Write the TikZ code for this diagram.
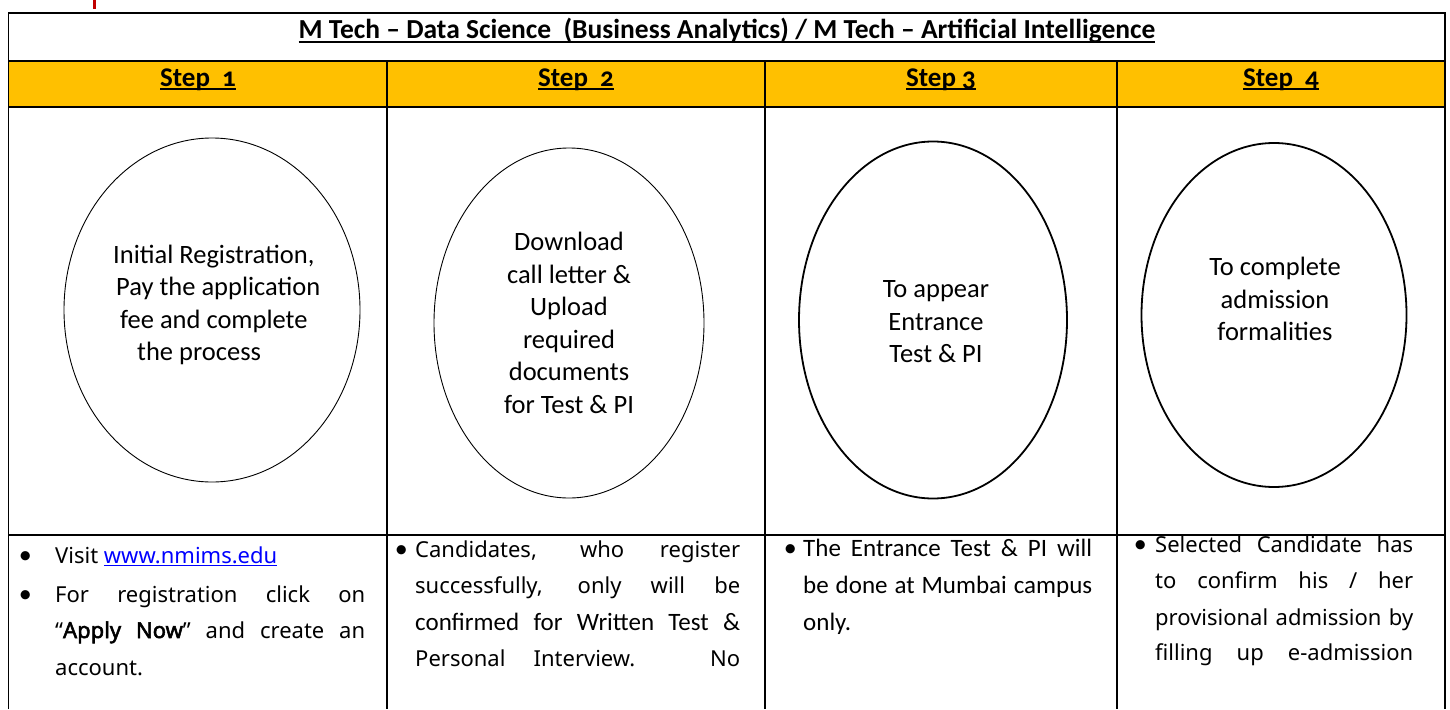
\documentclass[tikz,border=0pt]{standalone}
\usepackage{fontspec}
\usetikzlibrary{shapes.geometric}
\setmainfont{Carlito}
\newfontfamily\stepfont{Carlito}[Numbers=OldStyle]
\newfontfamily\bulfont{Carlito}
\newfontfamily\ns{Noto Sans}
\newfontfamily\nsbold{Noto Sans}[FakeBold=2.5]
\definecolor{hdr}{HTML}{FFC000}
\definecolor{linkblue}{HTML}{0000FF}
\definecolor{darkred}{HTML}{C00000}
\newcommand\ulx[1]{\setbox0=\hbox{#1}\rlap{\rule[-0.14em]{\wd0}{0.065em}}\box0}
\newcommand\jline[2]{\hbox to #1{\spaceskip=.26em plus 1fil minus .08em\relax #2}}
\newcommand\bul[1]{\llap{{\bulfont\fontsize{26}{30}\selectfont\textbullet}\hskip #1}}
\begin{document}
\begin{tikzpicture}[x=1pt,y=-1pt,
  grid/.style={line width=1.8pt},
  oval/.style={draw, ellipse, inner sep=0},
  ovtext/.style={align=center, inner sep=0, font=\fontsize{26.5}{32.5}\selectfont},
  hd/.style={anchor=base, inner sep=0, font=\bfseries\fontsize{27.5}{32}\selectfont},
  sh/.style={anchor=base, inner sep=0, font=\stepfont\bfseries\fontsize{27}{32}\selectfont},
  bl/.style={anchor=base west, inner sep=0, font=\ns\fontsize{22}{26}\selectfont},
  blc/.style={anchor=base west, inner sep=0, font=\fontsize{25}{30}\selectfont}]
\useasboundingbox (0,0) rectangle (1450,709);
% red mark at top
\fill[darkred] (93,0) rectangle (96,9);
% header fill
\fill[hdr] (8.5,61) rectangle (1445,107);
% grid
\draw[grid] (8.5,709) -- (8.5,13) -- (1445,13) -- (1445,709);
\draw[grid] (8.5,61) -- (1445,61);
\draw[grid] (8.5,107) -- (1445,107);
\draw[grid] (8.5,535) -- (1445,535);
\foreach \x in {387,765,1117} \draw[grid] (\x,61) -- (\x,709);
% title
\node[hd] (title) at (727,39) {\ulx{M Tech -- Data Science\ \ (Business Analytics) / M Tech -- Artificial Intelligence}};
% steps
\node[sh] (s1) at (198,86) {\ulx{Step\ \ 1}};
\node[sh] (s2) at (576,86) {\ulx{Step\ \ 2}};
\node[sh] (s3) at (941,86) {\ulx{Step 3}};
\node[sh] (s4) at (1281,86) {\ulx{Step\ \ 4}};
% ellipses
\node[oval, minimum width=296pt, minimum height=344pt, line width=0.9pt] (e1) at (212,310) {};
\node[oval, minimum width=270pt, minimum height=350pt, line width=0.9pt] (e2) at (569,323) {};
\node[oval, minimum width=268pt, minimum height=357pt, line width=1.8pt] (e3) at (933,320) {};
\node[oval, minimum width=265pt, minimum height=344pt, line width=1.8pt] (e4) at (1274,315) {};
% ellipse texts
\node[ovtext, align=left, anchor=west] (t1) at (113,305) {Initial Registration,\\\hspace*{3pt}Pay the application\\\hspace*{7pt}fee and complete\\\hspace*{24pt}the process};
\node[ovtext] (t2) at (569,323) {Download\\call letter \&\\Upload\\required\\documents\\for Test \& PI};
\node[ovtext] (t3) at (936,322) {To appear\\Entrance\\Test \& PI};
\node[ovtext] (t4) at (1275,299) {To complete\\admission\\formalities};
% column 1
\node[bl] (c1a) at (55,563) {\bul{23.5pt}Visit \textcolor{linkblue}{\ulx{www.nmims.edu}}};
\node[bl] (c1b) at (55,602) {\bul{23.5pt}\jline{310pt}{For registration click on}};
\node[bl] (c1c) at (55,638) {\jline{310pt}{“{\nsbold Apply Now}” and create an}};
\node[bl] (c1d) at (55,675) {account.};
% column 2
\node[bl] (c2a) at (415,557) {\bul{7.5pt}\jline{325pt}{Candidates, who register}};
\node[bl] (c2b) at (415,593) {\jline{325pt}{successfully, only will be}};
\node[blc] (c2c) at (415,630) {\jline{325pt}{confirmed for Written Test \&}};
\node[bl] (c2d) at (415,666) {\jline{325pt}{Personal Interview. No}};
% column 3
\node[blc] (c3a) at (803,556) {\bul{6.5pt}\jline{289pt}{The Entrance Test \& PI will}};
\node[blc] (c3b) at (803,593) {\jline{289pt}{be done at Mumbai campus}};
\node[blc] (c3c) at (803,630) {only.};
% column 4
\node[bl] (c4a) at (1155,552) {\bul{8.5pt}\jline{258pt}{Selected Candidate has}};
\node[bl] (c4b) at (1155,588) {\jline{258pt}{to confirm his / her}};
\node[bl] (c4c) at (1155,625) {\jline{258pt}{provisional admission by}};
\node[bl] (c4d) at (1155,660) {\jline{258pt}{filling up e-admission}};
\end{tikzpicture}
\end{document}
